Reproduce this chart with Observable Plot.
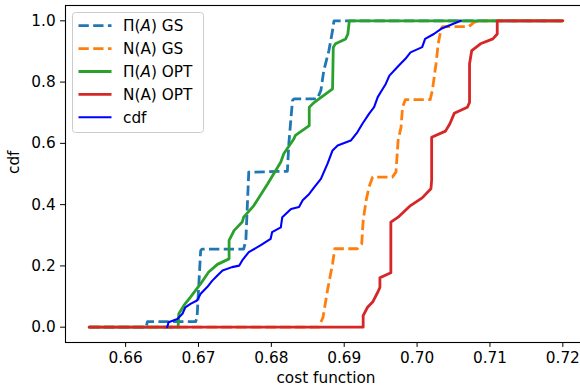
<!DOCTYPE html>
<html><head><meta charset="utf-8">
<script src="https://cdn.jsdelivr.net/npm/d3@7"></script>
<script src="https://cdn.jsdelivr.net/npm/@observablehq/plot@0.6"></script>
<style>
html,body{margin:0;padding:0;background:#fff;overflow:hidden;}
#wrap{position:relative;width:580px;height:392px;overflow:hidden;}
#legend{position:absolute;left:0;top:0;}
</style></head><body><div id="wrap"></div>
<script>
// ---- data ----
const xTicks = [0.66, 0.67, 0.68, 0.69, 0.70, 0.71, 0.72];
const yTicks = [0, 0.2, 0.4, 0.6, 0.8, 1.0];
const xLabel = "cost function";
const yLabel = "cdf";

const piGS = [[0.655,0],[0.6628,0],[0.6630,0.018],[0.6696,0.018],[0.6698,0.03],[0.6703,0.25],[0.6705,0.255],[0.6762,0.255],[0.6765,0.283],[0.6769,0.506],[0.6822,0.509],[0.6824,0.599],[0.6829,0.74],[0.6831,0.745],[0.6863,0.745],[0.6868,0.773],[0.6872,0.838],[0.6879,0.903],[0.6884,0.968],[0.6886,1.0],[0.72,1.0]];
const nGS = [[0.655,0],[0.6865,0],[0.6871,0.033],[0.6877,0.12],[0.6884,0.207],[0.6887,0.256],[0.6918,0.256],[0.6924,0.272],[0.6926,0.348],[0.6930,0.413],[0.6934,0.457],[0.6939,0.49],[0.6966,0.49],[0.6971,0.506],[0.6974,0.61],[0.6978,0.653],[0.6980,0.718],[0.6984,0.743],[0.7018,0.743],[0.7021,0.773],[0.7026,0.86],[0.7029,0.925],[0.7033,0.974],[0.7035,0.981],[0.7071,0.981],[0.7078,0.995],[0.7085,1.0],[0.72,1.0]];
const piOPT = [[0.655,0],[0.6672,0],[0.6673,0.044],[0.6680,0.071],[0.6689,0.098],[0.6703,0.142],[0.6714,0.18],[0.6726,0.205],[0.6742,0.223],[0.6742,0.283],[0.6749,0.316],[0.6760,0.343],[0.6762,0.359],[0.6776,0.397],[0.6795,0.468],[0.6813,0.539],[0.6817,0.566],[0.6831,0.615],[0.6833,0.626],[0.6852,0.658],[0.6852,0.718],[0.6859,0.734],[0.6884,0.778],[0.6885,0.914],[0.6888,0.925],[0.6902,0.941],[0.6905,0.957],[0.6907,1.0],[0.72,1.0]];
const nOPT = [[0.655,0],[0.6926,0],[0.6926,0.038],[0.6932,0.065],[0.6939,0.082],[0.6946,0.114],[0.6949,0.13],[0.6949,0.161],[0.6964,0.178],[0.6964,0.343],[0.6975,0.361],[0.6991,0.397],[0.7007,0.422],[0.7019,0.452],[0.7020,0.48],[0.7020,0.62],[0.7039,0.64],[0.7045,0.664],[0.7051,0.698],[0.7069,0.718],[0.7072,0.734],[0.7072,0.86],[0.7075,0.903],[0.7087,0.925],[0.7104,0.941],[0.7110,0.957],[0.7110,1.0],[0.72,1.0]];
const cdf = [[0.6657,0],[0.6659,0.016],[0.6671,0.027],[0.6678,0.044],[0.6682,0.065],[0.6689,0.076],[0.6698,0.087],[0.6703,0.109],[0.6712,0.131],[0.6719,0.152],[0.6726,0.169],[0.6733,0.185],[0.6746,0.196],[0.6756,0.201],[0.6760,0.218],[0.6769,0.245],[0.6785,0.267],[0.6799,0.288],[0.6801,0.31],[0.6813,0.326],[0.6815,0.359],[0.6827,0.386],[0.6838,0.392],[0.6843,0.414],[0.6852,0.435],[0.6859,0.457],[0.6868,0.484],[0.6877,0.533],[0.6884,0.577],[0.6891,0.593],[0.6909,0.609],[0.6918,0.636],[0.6925,0.664],[0.6934,0.696],[0.6941,0.718],[0.6946,0.751],[0.6950,0.767],[0.6957,0.794],[0.6962,0.821],[0.6975,0.854],[0.6984,0.876],[0.6991,0.897],[0.7007,0.914],[0.7011,0.941],[0.7023,0.957],[0.7033,0.974],[0.7044,0.985],[0.7060,1.0]];

const seriesNames = ["Π(A) GS", "N(A) GS", "Π(A) OPT", "N(A) OPT", "cdf"];
const seriesData = [piGS, nGS, piOPT, nOPT, cdf];
const seriesColors = ["#1f77b4", "#ff7f0e", "#2ca02c", "#d62728", "#0000ff"];
const seriesDash = ["10.3,4.4", "10.3,4.4", null, null, null];
const seriesWidth = [2.8, 2.8, 2.8, 2.8, 2.1];

const FS = 15.3;

// ---- chart ----
const lineMarks = seriesData.map((pts, i) => Plot.line(pts.map(([x, y]) => ({x, y})), {
  x: "x", y: "y", stroke: seriesColors[i], strokeWidth: seriesWidth[i],
  strokeDasharray: seriesDash[i] || undefined, strokeLinecap: seriesDash[i] ? "butt" : "round"
}));

const chart = Plot.plot({
  width: 580, height: 392,
  marginLeft: 65, marginRight: -6, marginTop: 5, marginBottom: 50,
  style: {fontFamily: "DejaVu Sans", fontSize: FS + "px", background: "white", color: "black"},
  x: {domain: [0.65175, 0.72325]},
  y: {domain: [-0.05, 1.05]},
  marks: [
    ...lineMarks,
    Plot.frame({stroke: "black", strokeWidth: 1.1}),
    Plot.axisX({ticks: xTicks, tickFormat: d3.format(".2f"), tickSize: 4.9, tickPadding: 4.9, label: null, fontSize: FS}),
    Plot.axisY({ticks: yTicks, tickFormat: d3.format(".1f"), tickSize: 4.9, tickPadding: 4.9, label: null, fontSize: FS}),
    Plot.text([xLabel], {frameAnchor: "bottom", dy: 40, fontSize: FS}),
    Plot.text([yLabel], {frameAnchor: "left", dx: -51, rotate: -90, fontSize: FS})
  ]
});
const wrap = document.getElementById("wrap");
wrap.appendChild(chart);

// ---- legend (overlay) ----
const lg = d3.select(wrap).append("svg").attr("id", "legend")
  .attr("width", 580).attr("height", 392)
  .style("font-family", "DejaVu Sans").style("font-size", FS + "px");
lg.append("rect").attr("x", 72.5).attr("y", 12.5).attr("width", 131).attr("height", 120)
  .attr("rx", 3).attr("fill", "white").attr("fill-opacity", 0.8).attr("stroke", "#cccccc").attr("stroke-width", 1);
seriesNames.forEach((name, i) => {
  const cy = 25.7 + i * 22.9;
  lg.append("line").attr("x1", 78.5).attr("x2", 111.5).attr("y1", cy).attr("y2", cy)
    .attr("stroke", seriesColors[i]).attr("stroke-width", seriesWidth[i])
    .attr("stroke-dasharray", seriesDash[i]);
  const t = lg.append("text").attr("x", 123).attr("y", cy).attr("dy", "0.36em");
  const m = name.match(/^(.*\()A(\).*)$/);
  if (name.startsWith("Π") && m) {
    t.append("tspan").text(m[1]);
    t.append("tspan").attr("font-style", "italic").text("A");
    t.append("tspan").text(m[2]);
  } else t.text(name);
});
</script></body></html>
